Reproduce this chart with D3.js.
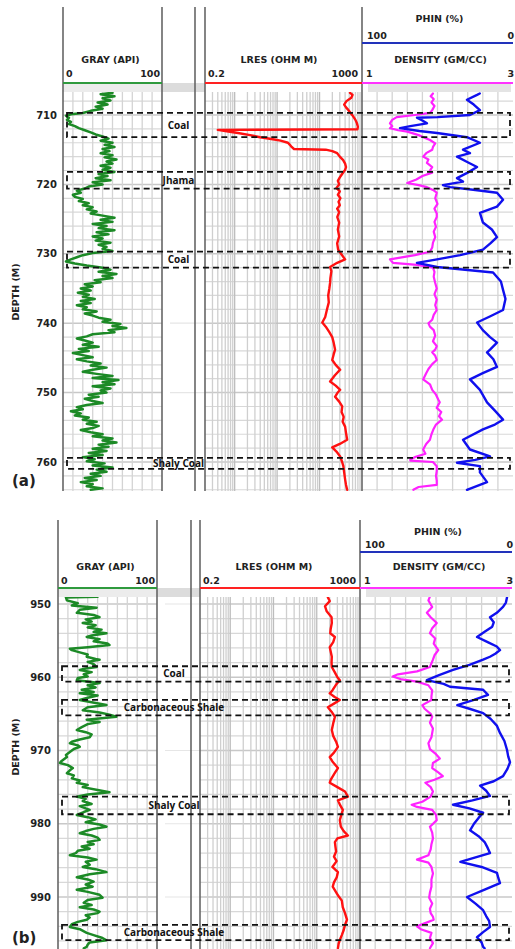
<!DOCTYPE html>
<html lang="en">
<head>
  <meta charset="UTF-8">
  <title>Well log</title>
  <style>
    body { margin: 0; background: #fff; }
    svg text { font-family: "DejaVu Sans", Verdana, sans-serif; font-weight: bold; fill: #222; }
    svg .zone { font-family: "Open Sans", sans-serif; font-size: 10px; fill: #111; }
  </style>
</head>
<body>
  <svg></svg>
</body>
<script src="https://cdn.jsdelivr.net/npm/d3@7"></script>
<script>
  // ---- panel (a) data : [depth m, value] ----
  var grA = [[706.8,50],[707.0,38],[707.3,52],[707.6,40],[707.9,48],[708.2,35],[708.5,45],[708.8,33],[709.1,40],[709.4,28],[709.7,20],[709.9,8],[710.1,3],[710.4,6],[710.7,4],[711.0,8],[711.3,6],[711.6,12],[711.9,16],[712.2,22],[712.5,28],[712.8,33],[713.1,40],[713.4,46],[713.7,38],[714.0,50],[714.3,42],[714.6,52],[714.9,40],[715.2,47],[715.5,38],[715.8,50],[716.1,42],[716.4,54],[716.7,44],[717.0,50],[717.3,38],[717.6,48],[717.9,40],[718.2,52],[718.5,36],[718.8,45],[719.1,33],[719.4,48],[719.7,30],[720.0,40],[720.3,26],[720.6,22],[720.9,14],[721.2,18],[721.5,10],[721.8,12],[722.1,20],[722.4,16],[722.7,26],[723.0,20],[723.3,30],[723.6,24],[723.9,34],[724.2,28],[724.5,40],[724.8,52],[725.1,38],[725.4,50],[725.7,30],[726.0,44],[726.3,36],[726.6,52],[726.9,34],[727.2,46],[727.5,30],[727.8,40],[728.1,33],[728.4,48],[728.7,36],[729.0,44],[729.3,40],[729.6,50],[729.9,30],[730.2,20],[730.5,14],[730.8,8],[731.1,3],[731.4,12],[731.7,24],[732.0,40],[732.3,48],[732.6,36],[732.9,54],[733.2,40],[733.5,50],[733.8,32],[734.1,38],[734.4,22],[734.7,30],[735.0,18],[735.3,28],[735.6,15],[735.9,26],[736.2,20],[736.5,32],[736.8,18],[737.1,28],[737.4,14],[737.7,24],[738.0,20],[738.3,34],[738.6,22],[738.9,30],[739.2,36],[739.5,48],[739.8,40],[740.1,58],[740.4,50],[740.7,64],[741.0,46],[741.3,52],[741.6,30],[741.9,24],[742.2,14],[742.5,22],[742.8,30],[743.1,20],[743.4,36],[743.7,16],[744.0,26],[744.3,10],[744.6,20],[744.9,30],[745.2,14],[745.5,24],[745.8,38],[746.1,28],[746.4,44],[746.7,30],[747.0,20],[747.3,34],[747.6,50],[747.9,30],[748.2,56],[748.5,40],[748.8,52],[749.1,30],[749.4,48],[749.7,38],[750.0,44],[750.3,26],[750.6,36],[750.9,22],[751.2,30],[751.5,40],[751.8,24],[752.1,14],[752.4,20],[752.7,8],[753.0,18],[753.3,12],[753.6,26],[753.9,20],[754.2,34],[754.5,24],[754.8,36],[755.1,30],[755.4,18],[755.7,28],[756.0,40],[756.3,30],[756.6,50],[756.9,40],[757.2,54],[757.5,36],[757.8,46],[758.1,30],[758.4,44],[758.7,26],[759.0,40],[759.3,20],[759.6,32],[759.9,24],[760.2,42],[760.5,30],[760.8,50],[761.1,34],[761.4,44],[761.7,28],[762.0,38],[762.3,22],[762.6,34],[762.9,18],[763.2,30],[763.5,24],[763.8,40],[764.0,28]]

  var lresA = [[706.8,520],[707.1,600],[707.5,560],[708.0,430],[708.5,380],[708.9,420],[709.3,480],[709.7,540],[710.2,620],[710.7,700],[711.2,760],[711.7,800],[712.05,780],[712.15,0.4],[712.3,0.6],[712.6,1.2],[712.9,2.3],[713.2,4],[713.5,8],[713.7,12],[714.0,18],[714.3,20],[714.6,22],[714.9,25],[715.0,140],[715.2,200],[715.5,260],[716.0,300],[716.5,360],[717.0,400],[717.5,420],[717.9,400],[718.5,340],[719.0,300],[719.5,270],[720.0,290],[720.5,250],[721.0,300],[721.5,270],[722.0,310],[722.5,280],[723.0,300],[723.5,260],[724.0,290],[724.7,262],[725.5,290],[726.5,270],[727.5,290],[728.5,260],[729.4,274],[730.0,320],[730.8,400],[731.3,260],[731.9,177],[732.5,190],[733.5,180],[734.2,177],[735.0,170],[736.0,160],[737.0,165],[738.0,150],[739.1,136],[739.9,116],[740.5,140],[741.3,170],[742.0,199],[742.8,215],[743.8,232],[744.5,215],[745.3,199],[746.0,240],[746.7,306],[747.5,230],[748.4,177],[749.0,240],[749.6,306],[750.1,260],[750.6,232],[751.3,290],[752.0,342],[752.8,330],[753.5,370],[754.2,350],[754.9,400],[755.8,420],[756.8,447],[757.4,300],[757.9,199],[758.5,250],[759.2,306],[760.0,340],[760.6,364],[761.5,380],[762.5,400],[763.3,420],[764.0,447]]

  var denA = [[706.9,1.94],[707.3,1.91],[707.7,1.95],[708.2,1.92],[708.7,1.96],[709.3,1.93],[709.7,1.90],[710.0,1.70],[710.3,1.46],[710.7,1.40],[711.2,1.37],[711.6,1.40],[711.9,1.37],[712.2,1.48],[712.4,1.60],[712.9,1.75],[713.6,1.90],[714.1,1.97],[714.6,1.94],[715.0,1.93],[715.5,1.85],[716.0,1.81],[716.4,1.88],[716.9,1.86],[717.5,1.93],[718.0,1.90],[718.3,1.93],[718.8,1.80],[719.3,1.72],[719.8,1.60],[720.1,1.75],[720.4,1.86],[720.8,1.94],[721.2,1.99],[722.0,1.97],[722.8,2.00],[723.5,1.96],[724.2,1.99],[724.7,1.99],[725.4,1.96],[726.1,1.98],[726.8,1.95],[727.6,1.97],[728.4,1.94],[729.1,1.93],[729.7,1.90],[730.2,1.70],[730.8,1.37],[731.3,1.41],[731.6,1.73],[732.0,1.94],[732.6,1.96],[733.3,1.95],[734.2,1.97],[735.0,1.99],[735.8,1.96],[736.6,1.99],[737.4,1.97],[738.1,1.99],[738.8,1.95],[739.5,1.93],[740.0,1.88],[740.5,1.90],[741.0,1.95],[741.8,1.97],[742.6,1.94],[743.3,1.99],[743.8,1.97],[744.2,1.93],[744.7,1.97],[745.3,1.99],[745.9,1.93],[746.6,1.88],[747.2,1.85],[748.1,1.81],[748.8,1.90],[749.6,1.93],[750.3,1.98],[751.0,2.01],[751.4,2.03],[752.2,1.99],[752.8,2.05],[753.4,2.02],[753.9,2.06],[754.6,1.98],[755.2,1.95],[756.0,1.92],[756.8,1.90],[757.4,1.85],[758.2,1.81],[758.8,1.84],[759.3,1.70],[759.6,1.64],[759.8,1.64],[760.0,1.94],[760.6,1.99],[761.3,1.99],[762.0,1.98],[762.7,1.99],[763.3,1.99],[763.6,1.75],[764.0,1.68]]

  var phinA = [[706.9,22],[707.1,23.8],[707.8,30.5],[708.5,26],[709.3,21.9],[710.0,28.5],[710.3,50],[710.4,63.6],[710.8,60],[711.2,57],[711.6,68],[711.9,74.8],[712.3,62],[712.6,50.3],[713.2,30.5],[714.0,21.9],[715.0,33.1],[715.5,28.5],[716.0,37.1],[716.8,30],[717.5,23.8],[718.3,30],[719.1,37.1],[719.6,33.1],[720.1,46.4],[720.4,41.7],[720.8,25],[721.2,10.6],[722.2,6.6],[723.2,10.6],[724.1,21.9],[725.5,19.9],[726.5,14],[727.6,10.6],[728.5,15],[729.4,19.9],[730.2,35],[730.8,50.3],[731.3,63.6],[731.9,50.3],[732.7,13.2],[734.0,8],[735.2,6.6],[736.5,5],[738.1,6.6],[739.0,15],[739.9,23.8],[741.0,20],[742.0,15.2],[742.8,10.6],[743.8,15.2],[744.2,17.2],[745.2,13],[746.3,10.6],[747.2,20],[748.1,28.5],[749.6,21.9],[751.4,17.2],[752.6,12],[753.9,6.6],[754.6,12],[755.3,19.9],[756.8,33.1],[758.2,28.5],[759.2,15.2],[759.7,25],[760.1,37.1],[760.6,21.9],[761.5,21.9],[762.9,17.2],[764.0,30.5]]

  var zonesA = [[709.7,713.2,"Coal"],[718.2,720.6,"Jhama"],[729.7,732.0,"Coal"],[759.4,761.0,"Shaly Coal"]]
  var depthTicksA = [710,720,730,740,750,760]

  // ---- panel (b) data ----
  var grB = [[949.0,40],[949.1,8],[949.5,9],[949.9,20],[950.2,14],[950.5,39],[950.8,22],[951.2,19],[951.5,36],[951.8,42],[952.1,28],[952.4,34],[952.6,25],[952.9,38],[953.2,30],[953.5,44],[953.8,36],[954.0,49],[954.3,34],[954.5,29],[954.8,42],[955.1,36],[955.4,50],[955.6,52],[955.9,30],[956.1,12],[956.3,14],[956.6,22],[956.9,30],[957.2,29],[957.5,38],[957.6,42],[957.9,30],[958.2,36],[958.6,39],[958.8,28],[959.0,22],[959.3,34],[959.6,26],[959.9,30],[960.1,20],[960.4,19],[960.8,42],[961.1,30],[961.4,38],[961.7,24],[962.0,36],[962.2,22],[962.5,40],[962.8,30],[963.1,22],[963.4,34],[963.8,49],[964.1,30],[964.5,25],[964.8,42],[965.1,52],[965.4,59],[965.8,29],[966.1,42],[966.4,30],[966.8,24],[967.2,19],[967.5,28],[967.8,34],[968.2,32],[968.5,22],[968.8,14],[969.0,12],[969.3,20],[969.5,22],[969.8,16],[970.2,12],[970.6,8],[970.9,9],[971.2,6],[971.5,3],[971.7,2],[972.0,10],[972.4,15],[972.7,12],[973.1,9],[973.4,16],[973.8,14],[974.1,22],[974.4,19],[974.7,30],[975.0,25],[975.4,40],[975.7,52],[976.0,30],[976.3,19],[976.6,28],[976.9,25],[977.3,34],[977.6,22],[978.1,32],[978.4,26],[978.8,19],[979.1,30],[979.4,38],[979.8,28],[980.1,42],[980.4,49],[980.7,36],[981.0,28],[981.3,22],[981.6,34],[981.9,40],[982.2,42],[982.5,30],[982.8,36],[983.1,24],[983.4,32],[983.7,20],[984.0,18],[984.3,12],[984.6,30],[984.9,39],[985.2,28],[985.6,32],[985.9,25],[986.2,38],[986.6,49],[986.9,32],[987.3,19],[987.6,30],[987.9,36],[988.3,28],[988.6,35],[989.0,19],[989.3,30],[989.7,42],[990.1,45],[990.4,30],[990.8,26],[991.1,34],[991.4,22],[991.7,36],[992.0,42],[992.2,40],[992.5,28],[992.8,32],[993.1,29],[993.4,20],[993.7,14],[994.1,12],[994.4,22],[994.9,29],[995.2,36],[995.6,45],[995.9,49],[996.2,32],[996.5,30],[996.8,29],[997.0,26]]

  var lresB = [[949.1,181],[949.6,200],[950.3,155],[951.0,170],[951.8,220],[952.6,223],[953.4,210],[954.0,205],[954.5,263],[955.2,240],[955.9,200],[956.5,210],[957.2,223],[958.0,220],[958.6,223],[959.3,260],[960.0,300],[960.4,342],[961.0,280],[961.8,230],[962.2,200],[962.7,260],[963.1,342],[963.6,250],[964.1,181],[964.7,220],[965.4,263],[966.3,240],[967.2,223],[968.0,240],[968.8,280],[969.5,309],[970.3,250],[970.9,200],[971.5,230],[972.4,309],[973.1,260],[974.0,210],[974.4,200],[975.0,300],[975.6,450],[976.3,525],[976.8,309],[977.5,350],[978.1,401],[978.8,370],[979.5,342],[980.4,360],[981.0,420],[981.6,525],[982.0,300],[982.5,263],[983.1,270],[983.8,280],[984.5,250],[985.1,288],[985.9,230],[986.6,309],[987.3,290],[988.0,250],[988.6,234],[989.2,270],[989.9,320],[990.5,380],[991.4,400],[992.2,450],[993.1,500],[993.8,450],[994.5,420],[995.2,380],[995.9,340],[996.4,320],[997.0,309]]

  var denB = [[949.0,1.92],[949.5,1.90],[950.4,1.95],[951.2,1.88],[951.8,1.93],[952.6,2.01],[953.3,1.95],[954.0,1.92],[954.7,1.99],[955.4,1.97],[956.3,2.03],[957.0,1.98],[957.6,1.96],[958.6,1.92],[959.2,1.75],[959.6,1.50],[959.9,1.43],[960.3,1.55],[960.6,1.75],[961.1,1.90],[961.8,1.95],[962.6,1.94],[963.1,1.94],[963.8,1.82],[964.3,1.85],[965.0,1.93],[965.4,1.95],[966.2,1.92],[967.0,1.96],[968.2,1.94],[969.0,1.90],[969.8,1.92],[970.5,2.00],[971.1,2.05],[971.7,1.96],[972.4,1.95],[973.0,2.03],[973.5,2.09],[974.0,1.98],[974.4,1.86],[975.0,1.93],[975.6,1.96],[976.3,1.93],[977.0,1.82],[977.4,1.68],[977.7,1.75],[978.1,1.95],[978.8,2.00],[979.5,2.01],[980.4,1.92],[981.2,1.95],[982.0,1.96],[982.8,1.94],[983.5,1.93],[984.3,1.90],[984.9,1.75],[985.3,1.90],[985.9,1.94],[986.8,1.96],[987.6,1.94],[988.6,1.94],[989.4,1.92],[990.1,1.91],[990.9,1.95],[991.6,1.92],[992.2,1.93],[992.7,1.96],[993.1,1.97],[993.6,1.85],[994.0,1.75],[994.4,1.80],[994.9,1.94],[995.6,1.92],[996.3,1.96],[997.0,1.92]]

  var phinB = [[949.1,3.3],[949.8,4],[950.4,5.9],[951.2,10],[951.8,14.5],[952.5,12],[953.1,13],[953.8,18],[954.5,23],[955.2,16],[955.8,10],[956.3,7.9],[956.8,11],[957.2,14.5],[957.6,19],[958.3,28],[959.0,38.8],[959.7,48],[960.4,56],[960.9,45],[961.3,40.8],[961.7,19],[962.4,15.8],[963.1,25],[963.8,36],[964.3,28],[964.9,19],[965.7,14],[966.6,10],[967.6,7.9],[968.7,5],[969.9,3.3],[970.8,2.5],[971.6,1.3],[972.5,3],[973.5,5.9],[974.2,12],[974.8,21],[975.5,17],[976.2,14.5],[976.8,26],[977.4,38.8],[977.9,28],[978.5,19],[979.2,22],[980.0,25],[980.9,27.6],[981.7,22],[982.5,18],[983.3,16],[984.0,14.5],[984.6,24],[985.2,34],[985.9,20],[986.7,9.9],[987.4,9],[988.1,7.9],[989.0,18],[990.0,29.6],[990.9,24],[991.8,19],[992.6,17],[993.3,15],[994.1,14.5],[994.8,19],[995.5,23],[996.2,20],[996.8,19],[997.0,18]]

  var zonesB = [[958.5,960.6,"Coal"],[963.1,965.2,"Carbonaceous Shale"],[976.3,978.7,"Shaly Coal"],[993.8,995.9,"Carbonaceous Shale"]]
  var depthTicksB = [950,960,970,980,990]

  var grDomain = [0, 100]
  var resDomain = [0.2, 1000]
  var denDomain = [1, 3]
  var phinDomain = [100, 0]

  var width = 515
  var height = 949

  var svg = d3.select('svg')
    .attr('width', width)
    .attr('height', height)

  function drawPanel(p) {
    var g = svg.append('g')
    var y = d3.scaleLinear().domain(p.depthRef).range(p.yRef)
    var xGr = d3.scaleLinear().domain(grDomain).range(p.gr)
    var xRes = d3.scaleLog().domain(resDomain).range(p.res)
    var xDen = d3.scaleLinear().domain(denDomain).range(p.den)
    var xPhin = d3.scaleLinear().domain(phinDomain).range(p.den)
    var dataTop = p.hdr + 9
    var d0 = y.invert(dataTop), d1 = y.invert(p.bottom)

    // header gray bands
    g.append('rect').attr('x', p.gr[0]).attr('y', p.hdr).attr('width', p.gr[1] - p.gr[0]).attr('height', 9).attr('fill', '#ececec')
    g.append('rect').attr('x', p.gr[1]).attr('y', p.hdr).attr('width', p.res[0] - p.gr[1]).attr('height', 9).attr('fill', '#dcdcdc')
    g.append('rect').attr('x', p.den[0] + 6).attr('y', p.hdr + 1).attr('width', p.den[1] - p.den[0] - 8).attr('height', 8).attr('fill', '#e4e4e4')

    // horizontal grid every 2 m
    var hLines = d3.range(Math.ceil(d0 / 2) * 2, d1, 2)
    var tracks = [p.gr, p.res, p.den]
    tracks.forEach(function(t) {
      g.selectAll(null).data(hLines).enter().append('line')
        .attr('x1', t[0]).attr('x2', t[1])
        .attr('y1', d => y(d)).attr('y2', d => y(d))
        .attr('stroke', d => d % 10 === 0 ? '#c8c8c8' : '#d8d8d8')
        .attr('stroke-width', d => d % 10 === 0 ? 1.5 : 1.2)
    })
    g.selectAll(null).data(hLines.filter(d => d % 10 === 0)).enter().append('line')
      .attr('x1', p.gr[1] + 8).attr('x2', p.res[0])
      .attr('y1', d => y(d)).attr('y2', d => y(d))
      .attr('stroke', '#e6e6e6').attr('stroke-width', 1.2)

    // vertical grids
    g.selectAll(null).data(d3.range(10, 100, 10)).enter().append('line')
      .attr('x1', d => xGr(d)).attr('x2', d => xGr(d))
      .attr('y1', dataTop).attr('y2', p.bottom)
      .attr('stroke', '#d4d4d4').attr('stroke-width', 1.3)
    var logTicks = []
    ;[0.1, 1, 10, 100].forEach(function(dec) {
      for (var k = 1; k <= 9; k++) {
        var v = dec * k
        if (v > 0.2 && v < 1000) logTicks.push(v)
      }
    })
    g.selectAll(null).data(logTicks).enter().append('line')
      .attr('x1', d => xRes(d)).attr('x2', d => xRes(d))
      .attr('y1', dataTop).attr('y2', p.bottom)
      .attr('stroke', d => [1, 10, 100].includes(d) ? '#bdbdbd' : '#cfcfcf')
      .attr('stroke-width', 1.3)
    g.selectAll(null).data(d3.range(1.2, 2.95, 0.2)).enter().append('line')
      .attr('x1', d => xDen(d)).attr('x2', d => xDen(d))
      .attr('y1', dataTop).attr('y2', p.bottom)
      .attr('stroke', '#d4d4d4').attr('stroke-width', 1.3)

    // track borders
    ;[p.gr[0], p.gr[1], p.gap, p.res[0], p.den[0]].forEach(function(x) {
      g.append('line').attr('x1', x).attr('x2', x).attr('y1', p.top).attr('y2', p.bottom)
        .attr('stroke', '#666').attr('stroke-width', 1.6)
    })

    // header scale lines
    g.append('line').attr('x1', p.gr[0]).attr('x2', p.gr[1]).attr('y1', p.hdr).attr('y2', p.hdr).attr('stroke', '#2f9a3e').attr('stroke-width', 2.2)
    g.append('line').attr('x1', p.res[0]).attr('x2', p.res[1]).attr('y1', p.hdr).attr('y2', p.hdr).attr('stroke', '#ff2222').attr('stroke-width', 2.2)
    g.append('line').attr('x1', p.den[0]).attr('x2', p.den[1]).attr('y1', p.hdr).attr('y2', p.hdr).attr('stroke', '#ff33ff').attr('stroke-width', 2.2)
    g.append('line').attr('x1', p.den[0]).attr('x2', p.den[1]).attr('y1', p.phinLine).attr('y2', p.phinLine).attr('stroke', '#2233bb').attr('stroke-width', 2)

    function txt(x, yy, s, anchor, size) {
      g.append('text').attr('x', x).attr('y', yy).attr('text-anchor', anchor || 'middle')
        .style('font-size', (size || 9.5) + 'px').text(s)
    }
    txt((p.gr[0] + p.gr[1]) / 2 - 2, p.title, 'GRAY (API)')
    txt(p.gr[0] + 3, p.scale, grDomain[0], 'start')
    txt(p.gr[1] - 2, p.scale, grDomain[1], 'end')
    txt(p.resTitleX, p.title, 'LRES (OHM M)')
    txt(p.res[0] + 3, p.scale, resDomain[0], 'start')
    txt(p.res[1] - 4, p.scale, resDomain[1], 'end')
    txt((p.den[0] + p.den[1]) / 2 + 3, p.title, 'DENSITY (GM/CC)')
    txt(p.den[0] + 4, p.scale, denDomain[0], 'start')
    txt(p.den[1] + 1, p.scale, denDomain[1], 'end')
    txt((p.den[0] + p.den[1]) / 2 + 2, p.phinTitle, 'PHIN (%)')
    txt(p.den[0] + 5, p.phinScale, phinDomain[0], 'start')
    txt(p.den[1] + 1, p.phinScale, phinDomain[1], 'end')

    // depth labels
    g.selectAll(null).data(p.ticks).enter().append('text')
      .attr('x', p.tickX).attr('y', d => y(d) + 3.6)
      .attr('text-anchor', 'end').style('font-size', '10px')
      .text(d => d)
    g.append('text').attr('transform', 'translate(' + 18.5 + ',' + p.depthLabelY + ') rotate(-90)')
      .attr('text-anchor', 'middle').style('font-size', '9.5px').text('DEPTH (M)')
    g.append('text').attr('x', 12).attr('y', p.panelLabelY).style('font-size', '15px').text(p.name)

    // curves
    var clipId = 'clip' + p.name.replace(/\W/g, '')
    svg.append('clipPath').attr('id', clipId).append('rect')
      .attr('x', 0).attr('y', dataTop).attr('width', width).attr('height', p.bottom - dataTop)
    var curves = g.append('g').attr('clip-path', 'url(#' + clipId + ')')
      .attr('fill', 'none').attr('stroke-linejoin', 'round').attr('stroke-linecap', 'round')
    function curve(data, xs, color, sw) {
      curves.append('path').datum(data)
        .attr('d', d3.line().x(d => xs(d[1])).y(d => y(d[0])))
        .attr('stroke', color).attr('stroke-width', sw)
    }
    curve(p.grData, xGr, '#1c8a26', 2.5)
    curve(p.resData, xRes, '#ff1111', 2.4)
    curve(p.denData, xDen, '#ff22ff', 2.2)
    curve(p.phinData, xPhin, '#1010ee', 2.4)

    // zone boxes
    var zx0 = p.gr[0] + 4, zx1 = p.den[1] - 3
    g.selectAll(null).data(p.zones).enter().append('rect')
      .attr('x', zx0).attr('width', zx1 - zx0)
      .attr('y', d => y(d[0])).attr('height', d => y(d[1]) - y(d[0]))
      .attr('fill', 'none').attr('stroke', '#111').attr('stroke-width', 1.8)
      .attr('stroke-dasharray', '6,4')
    g.selectAll(null).data(p.zones).enter().append('text')
      .attr('class', 'zone')
      .attr('x', (p.gr[1] + p.gap) / 2)
      .attr('y', d => (y(d[0]) + y(d[1])) / 2 + 3.5)
      .attr('text-anchor', 'middle')
      .text(d => d[2])
  }

  drawPanel({
    name: '(a)', top: 7, bottom: 491, hdr: 83,
    gr: [63, 162], gap: 195, res: [205, 362], den: [362, 513],
    depthRef: [710, 760], yRef: [115, 462],
    phinTitle: 22, phinScale: 38.5, phinLine: 43, title: 62.5, scale: 76.5,
    resTitleX: 279, tickX: 57, depthLabelY: 292, panelLabelY: 486,
    grData: grA, resData: lresA, denData: denA, phinData: phinA,
    zones: zonesA, ticks: depthTicksA
  })

  drawPanel({
    name: '(b)', top: 520, bottom: 949, hdr: 588,
    gr: [58, 157], gap: 191, res: [200, 360], den: [360, 512],
    depthRef: [950, 990], yRef: [604, 897],
    phinTitle: 534.5, phinScale: 547.5, phinLine: 552, title: 570, scale: 583.5,
    resTitleX: 274, tickX: 51, depthLabelY: 747, panelLabelY: 943,
    grData: grB, resData: lresB, denData: denB, phinData: phinB,
    zones: zonesB, ticks: depthTicksB
  })
</script>
</html>
